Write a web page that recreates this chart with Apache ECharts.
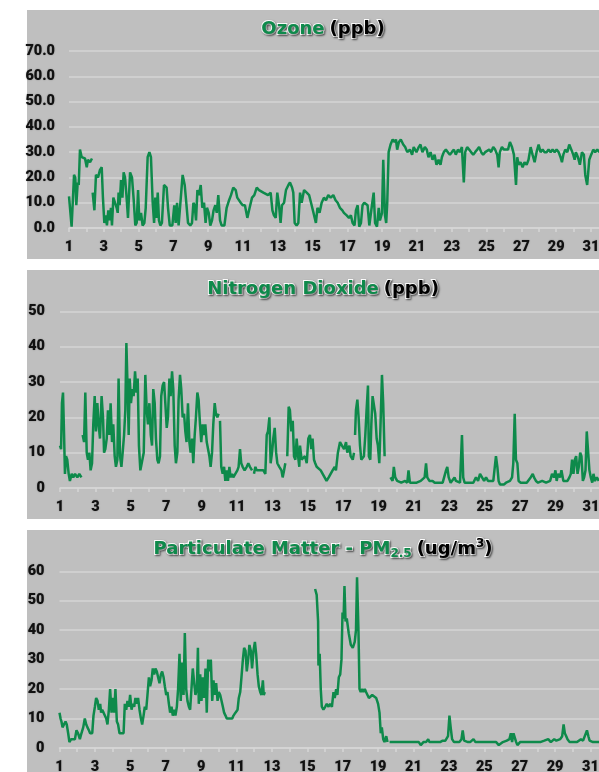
<!DOCTYPE html>
<html><head><meta charset="utf-8">
<script src="https://cdn.jsdelivr.net/npm/echarts@6/dist/echarts.min.js"></script>
<style>
html,body{margin:0;padding:0;background:#fff;overflow:hidden;width:599px;height:772px;}
.bg{position:absolute;left:27px;width:594px;height:249px;background:#bfbfbf;}
.c{position:absolute;left:0;width:646px;height:249px;}
</style></head><body>
<div class="bg" style="top:10px"></div>
<div class="bg" style="top:270px"></div>
<div class="bg" style="top:530px"></div>
<div id="c1" class="c" style="top:10px"></div>
<div id="c2" class="c" style="top:270px"></div>
<div id="c3" class="c" style="top:530px"></div>
<script>
// x = day of month (fractional), y = reading; '-' marks a gap in the record
const ozone = [
[1.00,12.5],[1.10,13],[1.15,0.5],[1.29,21],[1.36,20],[1.42,9],[1.50,18],[1.56,17],[1.63,31],[1.73,28],[1.82,28],[1.92,27.5],[2.02,24],[2.09,27],[2.21,26],[2.32,27.5],[2.34,'-'],
[2.36,14],[2.46,7],[2.55,21],[2.67,20],[2.78,23],[2.88,24],[2.95,12],[3.03,2],[3.11,5],[3.18,1],[3.26,7],[3.34,3],[3.41,8],[3.47,1],[3.55,12],[3.66,12],[3.74,8],[3.80,6],[3.85,14],[3.91,9],[3.99,19],[4.07,12],[4.14,22],[4.22,20],[4.30,13],[4.39,4],[4.51,22],[4.62,20],[4.72,11],[4.81,1],[4.89,2],[4.97,15],[5.04,3],[5.14,6],[5.23,1],[5.33,2],[5.41,8],[5.52,28],[5.62,30],[5.71,28],[5.81,10],[5.89,2],[5.96,12],[6.02,4],[6.10,14],[6.17,3],[6.25,1],[6.34,2],[6.46,17],[6.61,16],[6.69,8],[6.79,1],[6.94,1],[7.05,9],[7.13,2],[7.21,10],[7.30,1],[7.40,1],[7.53,21],[7.65,17],[7.74,10],[7.84,2],[7.97,1],[8.07,2],[8.15,10],[8.22,9],[8.30,3],[8.38,15],[8.47,13],[8.57,17],[8.66,8],[8.76,10],[8.85,2],[8.93,8],[9.03,6],[9.12,1],[9.22,3],[9.31,7],[9.41,9],[9.49,6],[9.58,13],[9.68,3],[9.77,1],[9.93,1],[10.06,8],[10.20,11],[10.31,13],[10.44,16],[10.58,15],[10.67,12],[10.77,12],[10.87,10],[10.98,9],[11.11,9],[11.25,4],[11.38,8],[11.52,12],[11.65,13],[11.79,16],[11.92,15],[12.17,14],[12.44,13],[12.59,14],[12.69,7],[12.78,5],[12.88,4],[12.97,14],[13.07,9],[13.16,2],[13.24,9],[13.36,10],[13.47,15],[13.61,17],[13.70,18],[13.82,16],[13.89,14],[13.97,2],[14.08,1],[14.18,2],
[14.28,14],[14.37,10],[14.51,15],[14.66,14],[14.80,13],[14.91,10],[15.05,6],[15.19,2],[15.28,8],[15.40,6],[15.52,10],[15.65,12],[15.77,11],[15.90,13],[16.04,12],[16.19,13],[16.32,11],[16.44,10],[16.57,8],[16.71,7],[16.80,6],[16.96,5],[17.09,4],[17.20,5],[17.30,2],[17.41,1],[17.49,7],[17.59,9],[17.68,0.5],[17.78,2],[17.87,9],[17.97,10],[18.07,10],[18.16,9],[18.26,1],[18.34,0.5],[18.43,10],[18.51,14],[18.59,2],[18.70,0.5],[18.80,8],[18.87,3],[18.99,6],[19.06,27],[19.16,5],[19.23,2],[19.29,10],[19.37,30],[19.48,33],[19.60,35],[19.71,34],[19.79,35],[19.86,31],[19.96,34],[20.07,35],[20.21,33],[20.32,32],[20.44,30],[20.59,31],[20.72,29],[20.81,32],[20.97,30],[21.10,32],[21.20,33],[21.31,30],[21.45,32],[21.56,31],[21.66,28],[21.78,30],[21.89,27],[22.01,29],[22.12,25],[22.24,27],[22.35,25],[22.43,28],[22.54,30],[22.66,31],[22.77,30],[22.89,29],[23.00,30],[23.12,31],[23.23,29],[23.35,31],[23.46,30],[23.58,32],[23.69,18],[23.77,30],[23.88,32],[24.00,31],[24.11,30],[24.23,29],[24.34,30],[24.46,31],[24.57,32],[24.69,30],[24.80,29],[24.92,30],[25.03,30],[25.15,31],[25.26,30],[25.38,32],[25.49,31],[25.61,29],[25.69,24],[25.76,30],[25.88,32],[26.00,31],[26.11,31],[26.23,31],[26.34,34],[26.46,32],[26.57,29],[26.69,17],[26.76,28],[26.84,25],[26.95,26],[27.07,24],[27.18,26],[27.30,25],[27.41,27],[27.53,32],[27.64,29],[27.76,26],[27.87,30],[27.99,33],[28.10,30],[28.22,31],[28.33,30],[28.45,30],[28.56,31],[28.68,30],[28.79,31],[28.91,30],[29.02,31],[29.14,30],[29.25,28],[29.33,26],[29.41,29],[29.52,31],[29.64,30],[29.75,33],[29.87,31],[29.98,29],[30.06,27],[30.13,30],[30.25,28],[30.36,25],[30.48,30],[30.59,29],[30.67,21],[30.78,17],[30.90,27],[31.01,29],[31.13,31],[31.24,30],[31.36,31],[31.48,30]
];
const no2 = [
[1.00,12],[1.06,11],[1.11,24],[1.17,27],[1.23,15],[1.28,4],[1.34,9],[1.41,8],[1.49,4],[1.56,2],[1.66,4],[1.75,3],[1.85,4],[1.98,3],[2.09,4],[2.21,3],[2.25,'-'],
[2.28,15],[2.36,13],[2.43,27],[2.51,10],[2.58,8],[2.66,10],[2.73,5],[2.81,7],[2.88,18],[2.96,26],[3.03,16],[3.11,24],[3.18,18],[3.26,14],[3.35,26],[3.43,20],[3.49,10],[3.56,11],[3.64,14],[3.71,22],[3.79,15],[3.86,24],[3.94,13],[4.01,18],[4.09,9],[4.16,6],[4.24,8],[4.31,31],[4.39,9],[4.47,6],[4.54,10],[4.62,15],[4.69,22],[4.75,41],[4.82,28],[4.88,15],[4.94,31],[5.01,24],[5.09,28],[5.16,26],[5.24,33],[5.32,27],[5.39,31],[5.46,12],[5.54,5],[5.63,5],[5.73,10],[5.82,32],[5.90,22],[5.97,18],[6.05,24],[6.13,15],[6.20,12],[6.27,28],[6.35,24],[6.42,14],[6.50,8],[6.57,7],[6.65,9],[6.72,26],[6.80,29],[6.88,30],[6.95,24],[7.03,17],[7.10,20],[7.18,31],[7.25,26],[7.33,33],[7.40,28],[7.48,12],[7.55,7],[7.63,10],[7.70,25],[7.78,32],[7.85,28],[7.93,20],[8.01,21],[8.08,16],[8.15,13],[8.23,24],[8.31,13],[8.38,10],[8.46,14],[8.53,7],[8.61,15],[8.68,20],[8.76,27],[8.83,25],[8.91,18],[8.98,13],[9.06,18],[9.14,15],[9.21,18],[9.29,13],[9.36,13],[9.44,9],[9.51,6],[9.59,10],[9.66,18],[9.74,24],[9.81,21],[9.89,20],[9.96,21],[10.00,'-'],
[10.04,19],[10.11,6],[10.19,4],[10.27,6],[10.34,2],[10.42,5],[10.49,2],[10.57,6],[10.64,3],[10.72,4],[10.79,3],[10.90,3],[11.02,5],[11.09,6],[11.17,11],[11.24,7],[11.32,6],[11.43,5],[11.55,6],[11.64,7],[11.73,6],[11.85,5],[11.90,'-'],
[11.96,4],[12.04,6],[12.11,5],[12.22,5],[12.34,5],[12.49,5],[12.60,4],[12.68,15],[12.75,16],[12.83,20],[12.90,7],[12.98,10],[13.05,14],[13.13,17],[13.21,10],[13.28,7],[13.39,6],[13.51,5],[13.58,3],[13.66,5],[13.73,7],[13.79,'-'],
[13.84,9],[13.92,23],[13.99,22],[14.07,16],[14.15,19],[14.22,9],[14.30,8],[14.37,14],[14.45,9],[14.52,6],[14.56,12],[14.65,8],[14.75,8],[14.84,9],[14.94,7],[15.03,14],[15.12,15],[15.20,11],[15.27,14],[15.35,8],[15.42,7],[15.50,6],[15.61,6],[15.73,5],[15.84,4],[15.95,4],[16.06,2],[16.18,3],[16.29,4],[16.40,5],[16.52,6],[16.59,5],[16.70,10],[16.82,13],[16.93,12],[17.05,11],[17.16,13],[17.23,10],[17.35,12],[17.42,9],[17.54,8],[17.61,10],[17.64,'-'],
[17.67,15],[17.72,22],[17.80,25],[17.87,20],[17.95,12],[18.02,8],[18.10,8],[18.17,9],[18.25,15],[18.32,22],[18.40,29],[18.45,9],[18.53,8],[18.59,18],[18.66,26],[18.74,26],[18.81,21],[18.89,14],[18.96,12],[19.04,7],[19.11,18],[19.19,32],[19.26,24],[19.34,9],[19.50,'-'],
[19.67,3],[19.79,2],[19.86,6],[19.94,3],[20.05,2],[20.16,2],[20.28,1.5],[20.39,2],[20.50,2],[20.62,1.5],[20.69,5],[20.77,1.5],[20.96,1.5],[21.15,1.5],[21.26,1.5],[21.38,2],[21.49,2],[21.60,3],[21.68,7],[21.75,3],[21.87,2],[21.98,1.5],[22.05,2],[22.17,1.5],[22.32,1.5],[22.47,1.5],[22.62,1.5],[22.73,2],[22.81,5],[22.88,6],[22.96,3],[23.07,1.5],[23.18,1.5],[23.29,3],[23.37,2],[23.48,1.5],[23.60,1.5],[23.71,15],[23.78,3],[23.86,1.5],[24.01,1.5],[24.13,1.5],[24.24,2],[24.35,1.5],[24.50,3],[24.62,2],[24.73,4],[24.84,4],[24.96,2],[25.07,3],[25.18,2],[25.30,2],[25.41,2],[25.48,2],[25.56,1.5],[25.63,9],[25.71,6],[25.78,2],[25.86,1],[25.97,0.5],[26.08,1],[26.20,1.5],[26.31,2],[26.42,2],[26.54,3],[26.61,7],[26.69,21],[26.76,8],[26.84,7],[26.91,2],[27.03,1.5],[27.14,1.5],[27.25,1.5],[27.37,1.5],[27.48,2],[27.59,3],[27.71,4],[27.78,3],[27.89,2],[28.01,1.5],[28.12,2],[28.24,2],[28.35,2],[28.46,1.5],[28.57,1.5],[28.69,2],[28.80,4],[28.91,3],[28.99,5],[29.06,2],[29.14,4],[29.25,3],[29.33,5],[29.44,2],[29.55,2],[29.67,2],[29.78,3],[29.86,4],[29.93,8],[30.01,4],[30.09,8],[30.16,9],[30.24,4],[30.31,6],[30.39,10],[30.46,9],[30.54,2],[30.61,3],[30.69,5],[30.76,16],[30.84,10],[30.91,5],[30.99,3],[31.07,1.5],[31.14,4],[31.22,2],[31.33,3],[31.44,2]
];
const pm25 = [
[1.00,12],[1.06,10],[1.11,9],[1.17,7],[1.26,7],[1.34,9],[1.41,8],[1.49,5],[1.56,2],[1.66,3],[1.75,3],[1.87,3],[1.96,6],[2.05,5],[2.15,3],[2.24,5],[2.34,7],[2.43,10],[2.51,8],[2.58,7],[2.66,6],[2.73,5],[2.85,5],[2.92,11],[3.00,14],[3.07,17],[3.15,16],[3.22,13],[3.30,15],[3.35,12],[3.41,13],[3.49,12],[3.56,12],[3.64,10],[3.71,8],[3.79,13],[3.86,20],[3.94,12],[4.01,17],[4.09,12],[4.16,20],[4.24,9],[4.31,8],[4.39,5],[4.50,5],[4.62,5],[4.69,15],[4.77,13],[4.84,16],[4.92,14],[4.99,18],[5.07,13],[5.14,15],[5.22,14],[5.29,17],[5.37,15],[5.44,17],[5.52,13],[5.60,10],[5.67,8],[5.75,11],[5.82,14],[5.90,13],[5.97,18],[6.05,24],[6.12,21],[6.20,23],[6.27,27],[6.35,25],[6.42,27],[6.50,26],[6.57,24],[6.65,22],[6.73,25],[6.80,26],[6.88,24],[6.95,21],[7.03,18],[7.10,19],[7.18,15],[7.25,12],[7.33,14],[7.40,11],[7.48,13],[7.55,11],[7.63,14],[7.70,20],[7.78,32],[7.85,16],[7.93,29],[8.01,18],[8.08,39],[8.16,20],[8.23,16],[8.31,14],[8.38,13],[8.46,13],[8.53,27],[8.61,22],[8.68,18],[8.76,20],[8.82,34],[8.87,15],[8.95,25],[9.02,16],[9.10,24],[9.17,17],[9.25,27],[9.32,12],[9.40,30],[9.47,26],[9.55,30],[9.63,16],[9.70,23],[9.78,18],[9.85,22],[9.93,16],[10.00,19],[10.08,18],[10.15,18],[10.23,14],[10.30,12],[10.38,11],[10.45,10],[10.60,10],[10.76,10],[10.83,11],[10.94,12],[11.06,13],[11.13,17],[11.21,19],[11.28,24],[11.36,30],[11.43,34],[11.51,33],[11.58,26],[11.66,30],[11.73,35],[11.81,33],[11.88,27],[11.96,33],[12.04,36],[12.11,32],[12.19,25],[12.26,21],[12.34,19],[12.41,18],[12.49,23],[12.54,18],[12.60,19],[13.00,'-'],
[15.44,54],[15.53,52],[15.61,43],[15.63,28],[15.70,32],[15.76,20],[15.82,14],[15.91,13],[16.01,14],[16.10,15],[16.20,14],[16.29,15],[16.39,14],[16.48,19],[16.55,17],[16.63,20],[16.70,18],[16.78,24],[16.86,25],[16.93,30],[16.99,46],[17.05,44],[17.10,55],[17.16,43],[17.23,44],[17.34,39],[17.46,35],[17.57,34],[17.68,36],[17.75,40],[17.81,58],[17.89,40],[17.95,20],[18.02,19],[18.10,20],[18.17,19],[18.25,20],[18.32,19],[18.40,18],[18.48,17],[18.55,17],[18.67,18],[18.78,18],[18.89,17],[19.00,15],[19.08,12],[19.15,5],[19.21,7],[19.29,3],[19.36,2],[19.46,4],[19.53,2],[19.59,'-'],
[19.65,2],[19.72,2.5],[19.83,2],[19.95,2],[20.06,2],[20.17,2],[20.29,2],[20.44,2],[20.55,2],[20.66,2],[20.81,2],[20.93,2],[21.04,2],[21.15,2],[21.30,2],[21.41,1],[21.56,2],[21.71,2],[21.83,3],[21.90,2],[22.05,2],[22.20,2],[22.35,2],[22.50,2],[22.65,2.5],[22.73,3],[22.80,2.5],[22.88,3],[22.95,4],[23.03,11],[23.10,7],[23.18,3],[23.29,2],[23.44,2],[23.59,2],[23.71,3],[23.78,6],[23.86,2.5],[23.97,2],[24.08,2],[24.20,2],[24.31,2],[24.39,3],[24.50,2],[24.61,2],[24.76,2],[24.88,2],[24.99,2],[25.14,2],[25.25,2],[25.40,2],[25.52,2],[25.67,2],[25.82,1],[25.93,1],[26.05,2],[26.16,2],[26.27,2.5],[26.35,2],[26.42,3],[26.50,5],[26.57,2],[26.65,5],[26.72,5],[26.80,2],[26.87,1],[27.02,2],[27.18,2],[27.33,2],[27.48,2],[27.63,2],[27.74,2.5],[27.86,2],[28.01,2],[28.16,2],[28.27,2],[28.39,2.5],[28.50,2.5],[28.61,3],[28.69,2.5],[28.76,2],[28.84,2.5],[28.95,3],[29.07,2.5],[29.18,3],[29.29,3],[29.40,4],[29.48,8],[29.55,5],[29.63,4],[29.70,3],[29.82,2],[29.93,2],[30.05,2],[30.16,2.5],[30.24,2],[30.35,2.5],[30.46,3],[30.58,2.5],[30.69,2.5],[30.80,6],[30.88,4],[30.95,2.5],[31.03,2],[31.14,2],[31.25,2.5],[31.37,2],[31.48,2]
];
const dayMin = 1, dayMax = 32;
const ozoneTicks = {min:0, max:70, step:10};
const no2Ticks = {min:0, max:50, step:10};
const pmTicks = {min:0, max:60, step:10};

const GREEN = '#0e8a4b';
const LABEL_FONT = "Roboto, 'Liberation Sans', sans-serif";
const LABEL_WEIGHT = 900;
const shadowed = {textBorderColor: '#fff', textBorderWidth: 2, textShadowColor: 'rgba(0,0,0,0.5)', textShadowBlur: 2, textShadowOffsetX: 1, textShadowOffsetY: 1};
const TF = "'DejaVu Sans', Verdana, sans-serif";
const titleRich = {
  g: Object.assign({color: GREEN, fontFamily: TF, fontWeight: 'bold', fontSize: 18, lineHeight: 22}, shadowed),
  k: Object.assign({color: '#000', fontFamily: TF, fontWeight: 'bold', fontSize: 18, lineHeight: 22}, shadowed),
  gs: Object.assign({color: GREEN, fontFamily: TF, fontWeight: 'bold', fontSize: 12, lineHeight: 10, verticalAlign: 'bottom'}, shadowed),
  ks: Object.assign({color: '#000', fontFamily: TF, fontWeight: 'bold', fontSize: 12, lineHeight: 12, verticalAlign: 'top'}, shadowed)
};

function makeOption(title, data, ticks, grid, yFmt, yMargin) {
  return {
    animation: false,
    backgroundColor: 'transparent',
    title: {text: title, left: 'center', top: 3, textStyle: {rich: titleRich}},
    grid: Object.assign({containLabel: false, outerBoundsMode: 'none'}, grid),
    xAxis: {
      type: 'value', min: dayMin, max: dayMax, interval: 1,
      axisLine: {show: true, lineStyle: {color: '#d6d6d6', width: 1.5}},
      axisTick: {show: true, length: 4, lineStyle: {color: '#d6d6d6', width: 1.5}},
      splitLine: {show: false},
      axisLabel: {
        formatter: v => (v % 2 === 1 ? String(v) : ''),
        color: '#111', fontFamily: LABEL_FONT, fontWeight: LABEL_WEIGHT, fontSize: 14.5, margin: 12,
        textShadowColor: 'rgba(0,0,0,0.35)', textShadowBlur: 1.5
      }
    },
    yAxis: {
      type: 'value', min: ticks.min, max: ticks.max, interval: ticks.step,
      axisLine: {show: false}, axisTick: {show: false},
      splitLine: {show: true, lineStyle: {color: '#d4d4d4', width: 1.5}},
      axisLabel: {
        formatter: yFmt, color: '#111', fontFamily: LABEL_FONT, fontWeight: LABEL_WEIGHT, fontSize: 14.5, margin: yMargin,
        textShadowColor: 'rgba(0,0,0,0.35)', textShadowBlur: 1.5
      }
    },
    series: [{
      type: 'line', data: data, showSymbol: false, connectNulls: false,
      lineStyle: {color: GREEN, width: 2.5}, itemStyle: {color: GREEN}
    }]
  };
}

const c1 = echarts.init(document.getElementById('c1'), null, {renderer: 'canvas'});
c1.setOption(makeOption('{g|Ozone} {k|(ppb)}', ozone, ozoneTicks,
  {left: 69, top: 41, width: 17.4 * (dayMax - dayMin), height: 177}, v => v.toFixed(1), 14));

const c2 = echarts.init(document.getElementById('c2'), null, {renderer: 'canvas'});
c2.setOption(makeOption('{g|Nitrogen Dioxide} {k|(ppb)}', no2, no2Ticks,
  {left: 60, top: 41.3, width: 17.7 * (dayMax - dayMin), height: 176.7}, v => String(v), 15));

const c3 = echarts.init(document.getElementById('c3'), null, {renderer: 'canvas'});
c3.setOption(makeOption('{g|Particulate Matter - PM}{gs|2.5} {k|(ug/m}{ks|3}{k|)}', pm25, pmTicks,
  {left: 59.5, top: 41.3, width: 17.7 * (dayMax - dayMin), height: 176.7}, v => String(v), 15));
</script>
</body></html>
